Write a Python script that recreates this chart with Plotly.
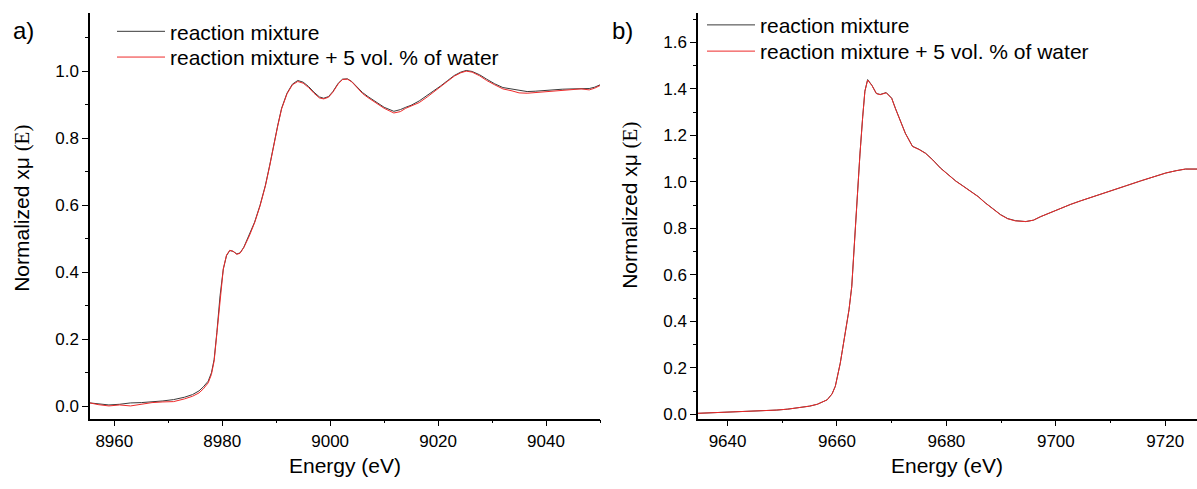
import plotly.graph_objects as go

# ---------------- data: panel a (Cu K-edge region) ----------------
energy_a = [8955.5, 8957, 8959, 8961, 8963, 8965, 8967, 8969, 8971, 8973, 8974.5, 8975.7,
            8976.5, 8977.4, 8978, 8978.5, 8979, 8979.6, 8980.2, 8980.8, 8981.4, 8982, 8982.7,
            8983.3, 8984, 8985, 8986, 8987, 8988, 8988.8, 8989.5, 8990.3, 8991, 8992, 8993,
            8994, 8995, 8996, 8997, 8998, 8998.8, 8999.7, 9000.5, 9001.5, 9002.3, 9003.2,
            9004, 9005, 9006, 9007, 9008.5, 9010, 9011.8, 9013, 9014, 9015, 9016.5, 9018,
            9019, 9020.5, 9021.7, 9023, 9024.2, 9025.2, 9026.3, 9027.7, 9029, 9030.5, 9032,
            9033.7, 9035, 9036.5, 9038, 9039.5, 9041, 9043, 9045, 9046.5, 9048, 9049, 9050]
mix_a = [0.010, 0.007, 0.004, 0.006, 0.010, 0.011, 0.013, 0.016, 0.020, 0.027, 0.035, 0.046,
         0.058, 0.075, 0.100, 0.140, 0.220, 0.330, 0.410, 0.450, 0.465, 0.463, 0.455,
         0.458, 0.475, 0.510, 0.550, 0.600, 0.660, 0.720, 0.780, 0.840, 0.890, 0.935, 0.962,
         0.973, 0.968, 0.955, 0.938, 0.924, 0.920, 0.925, 0.940, 0.965, 0.977, 0.978,
         0.970, 0.952, 0.937, 0.925, 0.908, 0.893, 0.881, 0.886, 0.893, 0.899, 0.912, 0.928,
         0.940, 0.957, 0.972, 0.988, 0.998, 1.003, 1.000, 0.990, 0.977, 0.963, 0.952,
         0.947, 0.943, 0.940, 0.941, 0.943, 0.945, 0.947, 0.948, 0.949, 0.949, 0.953, 0.960]
water_a = [0.010, 0.005, 0.001, 0.004, 0.001, 0.006, 0.011, 0.013, 0.014, 0.022, 0.030, 0.040,
           0.052, 0.070, 0.095, 0.135, 0.215, 0.328, 0.410, 0.452, 0.466, 0.463, 0.454,
           0.457, 0.474, 0.508, 0.548, 0.598, 0.658, 0.718, 0.778, 0.838, 0.888, 0.933, 0.960,
           0.970, 0.965, 0.952, 0.935, 0.921, 0.918, 0.923, 0.938, 0.963, 0.976, 0.977,
           0.969, 0.950, 0.934, 0.922, 0.905, 0.890, 0.876, 0.880, 0.890, 0.897, 0.907, 0.924,
           0.937, 0.955, 0.970, 0.986, 0.996, 1.001, 0.998, 0.987, 0.973, 0.960, 0.948,
           0.942, 0.936, 0.935, 0.937, 0.940, 0.942, 0.944, 0.947, 0.948, 0.945, 0.950, 0.958]

# ---------------- data: panel b (Zn K-edge region) ----------------
energy_b = [9634.6, 9638, 9641, 9644.2, 9647, 9649, 9651, 9653.3, 9655, 9656.4, 9657.4, 9658.2,
            9659.1, 9659.7, 9660.6, 9661.6, 9662.2, 9662.7, 9663.2, 9663.7, 9664.2, 9664.7,
            9665.1, 9665.6, 9666.4, 9667.2, 9667.9, 9669, 9670, 9670.7, 9671.6, 9672.5,
            9673.8, 9675, 9676.2, 9677.5, 9678.9, 9680.3, 9681.7, 9683, 9684.4, 9685.8,
            9687.1, 9688.5, 9689.9, 9691.2, 9692.6, 9694.5, 9695.9, 9697.2, 9699, 9700.9,
            9702.7, 9704.5, 9707.2, 9710, 9712.7, 9715.5, 9717.8, 9720.1, 9722, 9723.7, 9725.8]
mix_b = [0.004, 0.007, 0.010, 0.014, 0.016, 0.018, 0.022, 0.028, 0.035, 0.043, 0.052, 0.062,
         0.088, 0.121, 0.220, 0.360, 0.450, 0.550, 0.750, 0.950, 1.120, 1.280,
         1.390, 1.440, 1.415, 1.380, 1.376, 1.384, 1.360, 1.315, 1.265, 1.209,
         1.153, 1.140, 1.123, 1.095, 1.060, 1.030, 1.004, 0.983, 0.961, 0.937,
         0.910, 0.884, 0.859, 0.842, 0.833, 0.829, 0.835, 0.850, 0.868, 0.888,
         0.903, 0.918, 0.940, 0.961, 0.982, 1.004, 1.021, 1.038, 1.048, 1.055, 1.055]
water_b = [0.004, 0.007, 0.010, 0.014, 0.016, 0.018, 0.022, 0.028, 0.035, 0.043, 0.052, 0.062,
           0.087, 0.120, 0.219, 0.359, 0.449, 0.549, 0.749, 0.949, 1.119, 1.279,
           1.389, 1.438, 1.414, 1.380, 1.375, 1.383, 1.359, 1.314, 1.264, 1.208,
           1.152, 1.139, 1.122, 1.094, 1.059, 1.029, 1.003, 0.982, 0.960, 0.936,
           0.909, 0.883, 0.858, 0.841, 0.832, 0.829, 0.835, 0.850, 0.868, 0.888,
           0.903, 0.918, 0.940, 0.961, 0.982, 1.004, 1.021, 1.038, 1.048, 1.055, 1.055]

series_names = ["reaction mixture", "reaction mixture + 5 vol. % of water"]
series_colors = ["#3a3a3a", "#ee2a2a"]

FONT = "Liberation Sans, Arial, sans-serif"
W, H = 1197, 489

fig = go.Figure()
fig.add_trace(go.Scatter(x=energy_a, y=mix_a, mode="lines", name=series_names[0],
                         line=dict(color=series_colors[0], width=1), xaxis="x", yaxis="y",
                         legend="legend"))
fig.add_trace(go.Scatter(x=energy_a, y=water_a, mode="lines", name=series_names[1],
                         line=dict(color=series_colors[1], width=1), xaxis="x", yaxis="y",
                         legend="legend2"))
fig.add_trace(go.Scatter(x=energy_b, y=mix_b, mode="lines", name=series_names[0],
                         line=dict(color=series_colors[0], width=1), xaxis="x2", yaxis="y2",
                         legend="legend3"))
fig.add_trace(go.Scatter(x=energy_b, y=water_b, mode="lines", name=series_names[1],
                         line=dict(color=series_colors[1], width=1), xaxis="x2", yaxis="y2",
                         legend="legend4"))

def px_x(p):
    return p / W

def px_y(p):
    return 1 - p / H

ax_common = dict(showline=True, linecolor="black", linewidth=1.5, ticks="outside",
                 ticklen=6, tickwidth=1.2, tickcolor="black", showgrid=False, zeroline=False,
                 tickfont=dict(family=FONT, size=17, color="black"), mirror=False)
minor_common = dict(ticks="outside", ticklen=3, tickcolor="black", tickwidth=1.2)

def leg(xp, yp):
    return dict(x=px_x(xp), y=px_y(yp), xanchor="left", yanchor="middle",
                bgcolor="rgba(0,0,0,0)", font=dict(family=FONT, size=21, color="black"),
                itemwidth=48)

fig.update_layout(
    width=W, height=H, margin=dict(l=0, r=0, t=0, b=0),
    paper_bgcolor="white", plot_bgcolor="white",
    xaxis=dict(domain=[px_x(90), px_x(600)], range=[8955.5, 9050], anchor="y",
               tick0=8960, dtick=20, minor=dict(dtick=10, **minor_common), **ax_common),
    yaxis=dict(domain=[px_y(423), px_y(13)], range=[-0.037, 1.175], anchor="x",
               tick0=0, dtick=0.2, tickformat=".1f",
               minor=dict(dtick=0.1, **minor_common), **ax_common),
    xaxis2=dict(domain=[px_x(698), 1.0], range=[9634.6, 9725.8], anchor="y2",
                tick0=9640, dtick=20, minor=dict(dtick=10, **minor_common), **ax_common),
    yaxis2=dict(domain=[px_y(423), px_y(13)], range=[-0.019, 1.727], anchor="x2",
                tick0=0, dtick=0.2, tickformat=".1f",
                minor=dict(dtick=0.1, **minor_common), **ax_common),
    legend=leg(112, 32),
    legend2=leg(112, 58),
    legend3=leg(702, 25.5),
    legend4=leg(702, 52),
    showlegend=True,
)

ytitle = 'Normalized xμ <span style="font-family:Liberation Serif, serif">(E)</span>'
annots = [
    dict(text="a)", x=px_x(23), y=px_y(31), font=dict(family=FONT, size=24)),
    dict(text="b)", x=px_x(622), y=px_y(31), font=dict(family=FONT, size=24)),
    dict(text="Energy (eV)", x=px_x(345), y=px_y(470), font=dict(family=FONT, size=21)),
    dict(text="Energy (eV)", x=px_x(947), y=px_y(470), font=dict(family=FONT, size=21)),
    dict(text=ytitle, x=px_x(22), y=px_y(211), textangle=-90, font=dict(family=FONT, size=21)),
    dict(text=ytitle, x=px_x(630), y=px_y(208), textangle=-90, font=dict(family=FONT, size=21)),
]
for a in annots:
    a.update(xref="paper", yref="paper", showarrow=False, xanchor="center", yanchor="middle")
    a["font"]["color"] = "black"
    fig.add_annotation(**a)

fig.write_html("out.html", config={"displayModeBar": False},
               post_script="document.body.style.margin='0';document.body.style.overflow='hidden';")
